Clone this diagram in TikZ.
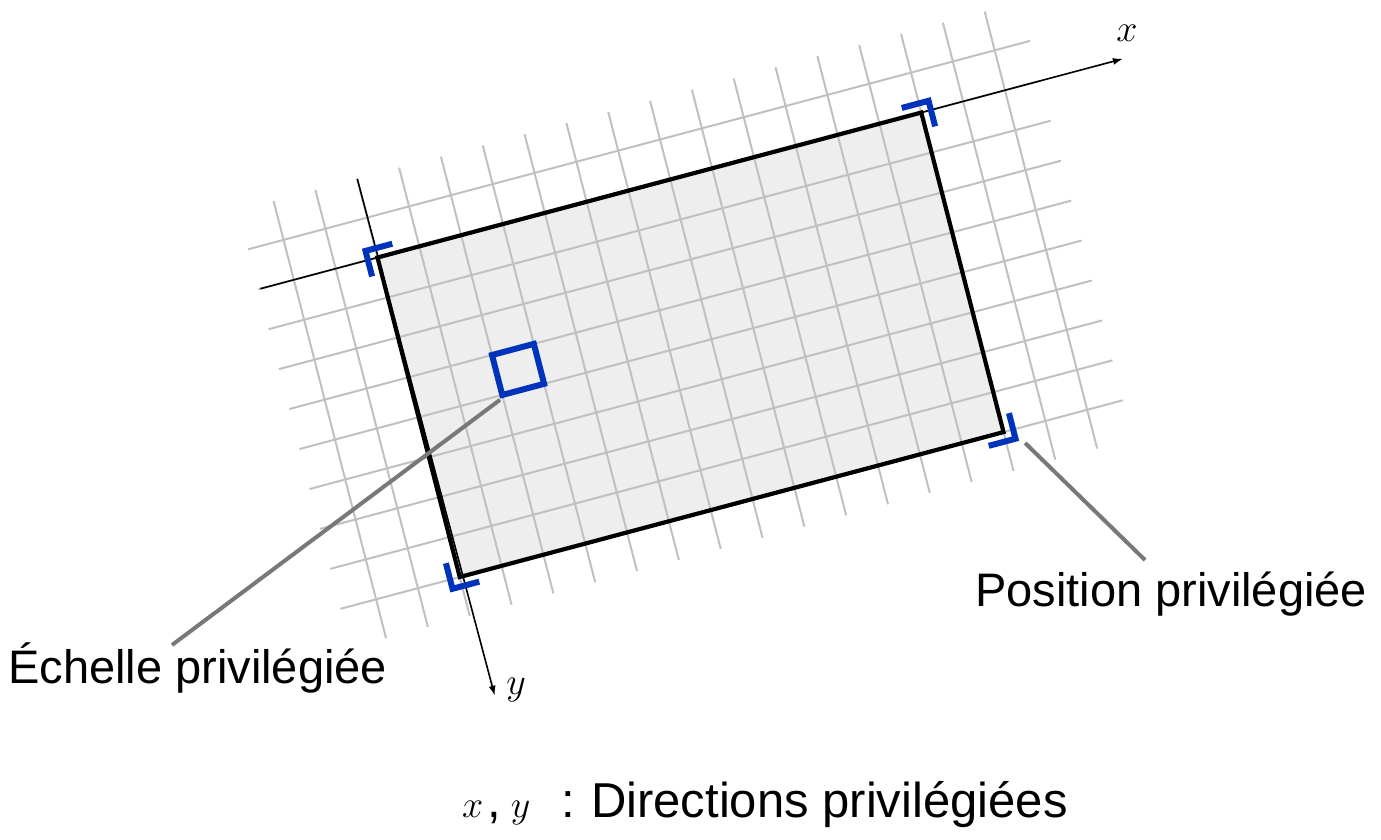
\documentclass[tikz,border=0pt]{standalone}
\usepackage{fix-cm}
\usepackage{fontspec}
\setmainfont{Liberation Sans}
\usetikzlibrary{arrows.meta}
\definecolor{markblue}{RGB}{0,51,187}
\definecolor{gridgray}{RGB}{192,192,192}
\definecolor{fillgray}{RGB}{238,238,238}
\definecolor{leadgray}{RGB}{120,120,120}
\begin{document}
\begin{tikzpicture}[x=1pt,y=-1pt,
  gridline/.style={gridgray, line width=2pt},
  frame/.style={black, line width=4.2pt, line join=miter},
  axisline/.style={black, line width=1.6pt, -{Latex[length=10pt,width=7pt]}},
  bluemark/.style={markblue, line width=6pt, line join=miter},
  leader/.style={leadgray, line width=4pt},
  lbl/.style={inner sep=0pt, font=\fontsize{47}{56}\selectfont},
  mathlbl/.style={inner sep=0pt, font=\fontsize{38}{46}\selectfont}]
\useasboundingbox (0,0) rectangle (1381,839);
\begin{scope}[shift={(377.5pt,-257.5pt)}, x={(41.83pt,11.15pt)}, y={(10.28pt,-39.94pt)}]
  \coordinate (TL) at (0,0);
  \coordinate (TR) at (13,0);
  \coordinate (BR) at (13,8);
  \coordinate (BL) at (0,8);
  \fill[fillgray] (TL) -- (TR) -- (BR) -- (BL) -- cycle;
  \foreach \k in {-2,...,15} \draw[gridline] (\k,-1.97) -- (\k,8.97);
  \foreach \k in {-1,...,8} \draw[gridline] (-2.85,\k) -- (15.85,\k);
  \draw[frame] (TL) -- (TR) -- (BR) -- (BL) -- cycle;
  \coordinate (xs) at (-2.8,0);
  \coordinate (xe) at (17.82,0);
  \coordinate (ys) at (0,-1.97);
  \coordinate (ye) at (0.1,11);
  \draw[axisline] (xs) -- (xe);
  \draw[axisline] (ys) -- (ye);
  \draw[bluemark] (0.41,-0.23) -- (-0.23,-0.23) -- (-0.23,0.41);
  \draw[bluemark] (12.59,-0.23) -- (13.23,-0.23) -- (13.23,0.41);
  \draw[bluemark] (13.23,7.59) -- (13.23,8.23) -- (12.59,8.23);
  \draw[bluemark] (-0.23,7.59) -- (-0.23,8.23) -- (0.41,8.23);
  \draw[bluemark] (2,3) -- (3,3) -- (3,4) -- (2,4) -- cycle;
  \coordinate (sqlead) at (1.92,4.1);
  \coordinate (brlead) at (13.42,8.39);
\end{scope}
\node[mathlbl] (xlab) at (1127,33) {$x$};
\node[mathlbl] (ylab) at (516,690) {$y$};
\node[lbl, anchor=base west] (poslab) at (975,606) {Position privilégiée};
\node[lbl, anchor=base west] (echlab) at (8,683) {Échelle privilégiée};
\coordinate (posend) at (1145,560);
\coordinate (echend) at (172,645);
\draw[leader] (brlead) -- (posend);
\draw[leader] (sqlead) -- (echend);
\node[lbl, anchor=base west, font=\fontsize{49}{58}\selectfont] (dirlab) at (462,817) {{\fontsize{38}{46}\selectfont$x$}\kern4pt,\kern10pt{\fontsize{38}{46}\selectfont$y$}\kern31pt:\kern16pt Directions privilégiées};
\end{tikzpicture}
\end{document}
